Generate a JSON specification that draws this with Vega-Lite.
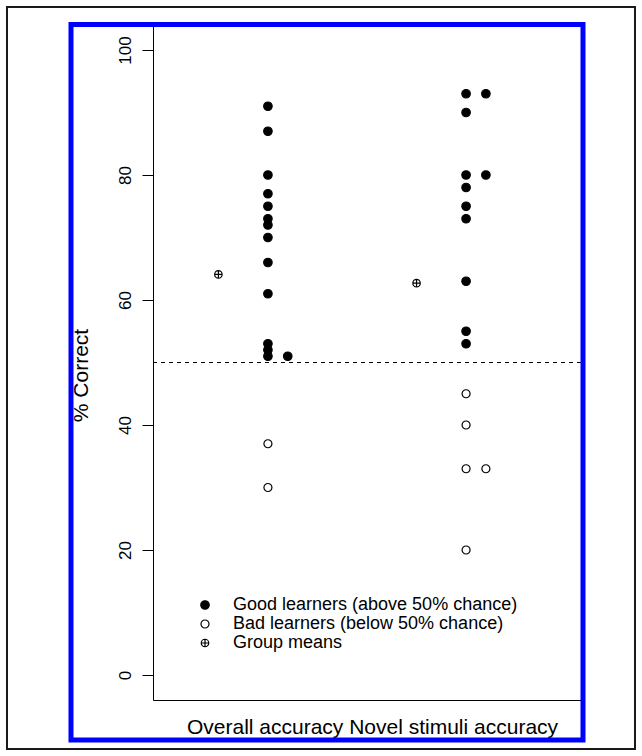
{
  "$schema": "https://vega.github.io/schema/vega-lite/v6.json",
  "autosize": "none",
  "width": 428,
  "height": 675,
  "padding": {"left": 153, "top": 25, "right": 61, "bottom": 56},
  "background": "white",
  "config": {
    "view": {"stroke": "black", "strokeWidth": 1},
    "font": "Liberation Sans",
    "axis": {"grid": false, "labelColor": "black", "titleColor": "black", "titleFontWeight": "normal"},
    "legend": {
      "title": null, "orient": "none", "legendX": 43, "legendY": 571,
      "padding": 0, "labelFont": "Liberation Sans", "labelFontSize": 18, "labelColor": "black",
      "labelOffset": 19, "labelLimit": 500, "rowPadding": 1, "symbolStrokeColor": "black", "symbolStrokeWidth": 1.2,
      "symbolOpacity": 1
    }
  },
  "datasets": {
    "points": [
      {"measure": "Overall accuracy", "x": 1, "y": 91, "type": "Good learners (above 50% chance)"},
      {"measure": "Overall accuracy", "x": 1, "y": 87, "type": "Good learners (above 50% chance)"},
      {"measure": "Overall accuracy", "x": 1, "y": 80, "type": "Good learners (above 50% chance)"},
      {"measure": "Overall accuracy", "x": 1, "y": 77, "type": "Good learners (above 50% chance)"},
      {"measure": "Overall accuracy", "x": 1, "y": 75, "type": "Good learners (above 50% chance)"},
      {"measure": "Overall accuracy", "x": 1, "y": 73, "type": "Good learners (above 50% chance)"},
      {"measure": "Overall accuracy", "x": 1, "y": 72, "type": "Good learners (above 50% chance)"},
      {"measure": "Overall accuracy", "x": 1, "y": 70, "type": "Good learners (above 50% chance)"},
      {"measure": "Overall accuracy", "x": 1, "y": 66, "type": "Good learners (above 50% chance)"},
      {"measure": "Overall accuracy", "x": 1, "y": 61, "type": "Good learners (above 50% chance)"},
      {"measure": "Overall accuracy", "x": 1, "y": 53, "type": "Good learners (above 50% chance)"},
      {"measure": "Overall accuracy", "x": 1, "y": 52, "type": "Good learners (above 50% chance)"},
      {"measure": "Overall accuracy", "x": 1, "y": 51, "type": "Good learners (above 50% chance)"},
      {"measure": "Overall accuracy", "x": 1.1, "y": 51, "type": "Good learners (above 50% chance)"},
      {"measure": "Overall accuracy", "x": 1, "y": 37, "type": "Bad learners (below 50% chance)"},
      {"measure": "Overall accuracy", "x": 1, "y": 30, "type": "Bad learners (below 50% chance)"},
      {"measure": "Novel stimuli accuracy", "x": 2, "y": 93, "type": "Good learners (above 50% chance)"},
      {"measure": "Novel stimuli accuracy", "x": 2.1, "y": 93, "type": "Good learners (above 50% chance)"},
      {"measure": "Novel stimuli accuracy", "x": 2, "y": 90, "type": "Good learners (above 50% chance)"},
      {"measure": "Novel stimuli accuracy", "x": 2, "y": 80, "type": "Good learners (above 50% chance)"},
      {"measure": "Novel stimuli accuracy", "x": 2.1, "y": 80, "type": "Good learners (above 50% chance)"},
      {"measure": "Novel stimuli accuracy", "x": 2, "y": 78, "type": "Good learners (above 50% chance)"},
      {"measure": "Novel stimuli accuracy", "x": 2, "y": 75, "type": "Good learners (above 50% chance)"},
      {"measure": "Novel stimuli accuracy", "x": 2, "y": 73, "type": "Good learners (above 50% chance)"},
      {"measure": "Novel stimuli accuracy", "x": 2, "y": 63, "type": "Good learners (above 50% chance)"},
      {"measure": "Novel stimuli accuracy", "x": 2, "y": 55, "type": "Good learners (above 50% chance)"},
      {"measure": "Novel stimuli accuracy", "x": 2, "y": 53, "type": "Good learners (above 50% chance)"},
      {"measure": "Novel stimuli accuracy", "x": 2, "y": 45, "type": "Bad learners (below 50% chance)"},
      {"measure": "Novel stimuli accuracy", "x": 2, "y": 40, "type": "Bad learners (below 50% chance)"},
      {"measure": "Novel stimuli accuracy", "x": 2, "y": 33, "type": "Bad learners (below 50% chance)"},
      {"measure": "Novel stimuli accuracy", "x": 2.1, "y": 33, "type": "Bad learners (below 50% chance)"},
      {"measure": "Novel stimuli accuracy", "x": 2, "y": 20, "type": "Bad learners (below 50% chance)"},
      {"measure": "Overall accuracy", "x": 0.75, "y": 64.1, "type": "Group means"},
      {"measure": "Novel stimuli accuracy", "x": 1.75, "y": 62.7, "type": "Group means"}
    ],
    "frame": [{"k": 1}]
  },
  "layer": [
    {
      "data": {"name": "points"},
      "mark": {"type": "point", "filled": true, "stroke": "black", "strokeWidth": 1.2, "opacity": 1},
      "encoding": {
        "x": {
          "field": "x", "type": "quantitative",
          "scale": {"domain": [0.42, 2.58], "nice": false, "zero": false},
          "axis": {
            "ticks": false, "labels": false, "domain": false,
            "title": "Overall accuracy Novel stimuli accuracy",
            "titleFont": "Liberation Sans", "titleFontSize": 21,
            "titleX": 219, "titleY": 33, "titleBaseline": "alphabetic", "titleAlign": "center"
          }
        },
        "y": {
          "field": "y", "type": "quantitative",
          "scale": {"domain": [-4, 104], "nice": false, "zero": false},
          "axis": {
            "values": [0, 20, 40, 60, 80, 100],
            "domain": false,
            "tickSize": 11, "tickColor": "black", "tickWidth": 1,
            "labelAngle": -90, "labelAlign": "center", "labelBaseline": "alphabetic",
            "labelPadding": 12, "labelFont": "Liberation Sans", "labelFontSize": 17,
            "title": "% Correct",
            "titleFont": "Liberation Sans", "titleFontSize": 21,
            "titleAngle": -90, "titleX": -66, "titleY": 350,
            "titleBaseline": "alphabetic", "titleAlign": "center"
          }
        },
        "shape": {
          "field": "type", "type": "nominal",
          "scale": {
            "domain": ["Good learners (above 50% chance)", "Bad learners (below 50% chance)", "Group means"],
            "range": ["circle", "circle", "M-1,0A1,1 0 1,1 1,0A1,1 0 1,1 -1,0Z M-1,0L1,0 M0,-1L0,1"]
          },
          "legend": {
            "encode": {"symbols": {"update": {"stroke": {"value": "black"}, "strokeWidth": {"value": 1.2}, "opacity": {"value": 1}}}}
          }
        },
        "fill": {
          "field": "type", "type": "nominal",
          "scale": {
            "domain": ["Good learners (above 50% chance)", "Bad learners (below 50% chance)", "Group means"],
            "range": ["black", "white", "white"]
          },
          "legend": {
            "encode": {"symbols": {"update": {"stroke": {"value": "black"}, "strokeWidth": {"value": 1.2}, "opacity": {"value": 1}}}}
          }
        },
        "size": {
          "field": "type", "type": "nominal",
          "scale": {
            "domain": ["Good learners (above 50% chance)", "Bad learners (below 50% chance)", "Group means"],
            "range": [72, 56, 56]
          },
          "legend": {
            "encode": {"symbols": {"update": {"stroke": {"value": "black"}, "strokeWidth": {"value": 1.2}, "opacity": {"value": 1}}}}
          }
        }
      }
    },
    {
      "data": {"name": "frame"},
      "mark": {"type": "rule", "stroke": "black", "strokeWidth": 1, "strokeDash": [4, 4]},
      "encoding": {
        "y": {
          "datum": 50, "type": "quantitative",
          "scale": {"domain": [-4, 104], "nice": false, "zero": false},
          "axis": {
            "values": [0, 20, 40, 60, 80, 100],
            "domain": false,
            "tickSize": 11, "tickColor": "black", "tickWidth": 1,
            "labelAngle": -90, "labelAlign": "center", "labelBaseline": "alphabetic",
            "labelPadding": 12, "labelFont": "Liberation Sans", "labelFontSize": 17,
            "title": "% Correct",
            "titleFont": "Liberation Sans", "titleFontSize": 21,
            "titleAngle": -90, "titleX": -66, "titleY": 350,
            "titleBaseline": "alphabetic", "titleAlign": "center"
          }
        }
      }
    },
    {
      "data": {"name": "frame"},
      "mark": {"type": "point", "clip": false, "filled": false, "opacity": 1, "stroke": "#0000ff", "strokeWidth": 5,
               "shape": "M-1,-1.39746H1V1.39746H-1Z"},
      "encoding": {
        "x": {
          "datum": 1.2981, "type": "quantitative",
          "scale": {"domain": [0.42, 2.58], "nice": false, "zero": false},
          "axis": {
            "ticks": false, "labels": false, "domain": false,
            "title": "Overall accuracy Novel stimuli accuracy",
            "titleFont": "Liberation Sans", "titleFontSize": 21,
            "titleX": 219, "titleY": 33, "titleBaseline": "alphabetic", "titleAlign": "center"
          }
        },
        "y": {
          "datum": 46.84, "type": "quantitative",
          "scale": {"domain": [-4, 104], "nice": false, "zero": false},
          "axis": {
            "values": [0, 20, 40, 60, 80, 100],
            "domain": false,
            "tickSize": 11, "tickColor": "black", "tickWidth": 1,
            "labelAngle": -90, "labelAlign": "center", "labelBaseline": "alphabetic",
            "labelPadding": 12, "labelFont": "Liberation Sans", "labelFontSize": 17,
            "title": "% Correct",
            "titleFont": "Liberation Sans", "titleFontSize": 21,
            "titleAngle": -90, "titleX": -66, "titleY": 350,
            "titleBaseline": "alphabetic", "titleAlign": "center"
          }
        },
        "size": {"value": 262144}
      }
    },
    {
      "data": {"name": "frame"},
      "mark": {"type": "point", "clip": false, "filled": false, "opacity": 1, "stroke": "#1a1a1a", "strokeWidth": 2,
               "shape": "M-1,-1.18153H1V1.18153H-1Z"},
      "encoding": {
        "x": {
          "datum": 1.2678, "type": "quantitative",
          "scale": {"domain": [0.42, 2.58], "nice": false, "zero": false},
          "axis": {
            "ticks": false, "labels": false, "domain": false,
            "title": "Overall accuracy Novel stimuli accuracy",
            "titleFont": "Liberation Sans", "titleFontSize": 21,
            "titleX": 219, "titleY": 33, "titleBaseline": "alphabetic", "titleAlign": "center"
          }
        },
        "y": {
          "datum": 47.52, "type": "quantitative",
          "scale": {"domain": [-4, 104], "nice": false, "zero": false},
          "axis": {
            "values": [0, 20, 40, 60, 80, 100],
            "domain": false,
            "tickSize": 11, "tickColor": "black", "tickWidth": 1,
            "labelAngle": -90, "labelAlign": "center", "labelBaseline": "alphabetic",
            "labelPadding": 12, "labelFont": "Liberation Sans", "labelFontSize": 17,
            "title": "% Correct",
            "titleFont": "Liberation Sans", "titleFontSize": 21,
            "titleAngle": -90, "titleX": -66, "titleY": 350,
            "titleBaseline": "alphabetic", "titleAlign": "center"
          }
        },
        "size": {"value": 394384}
      }
    }
  ]
}
